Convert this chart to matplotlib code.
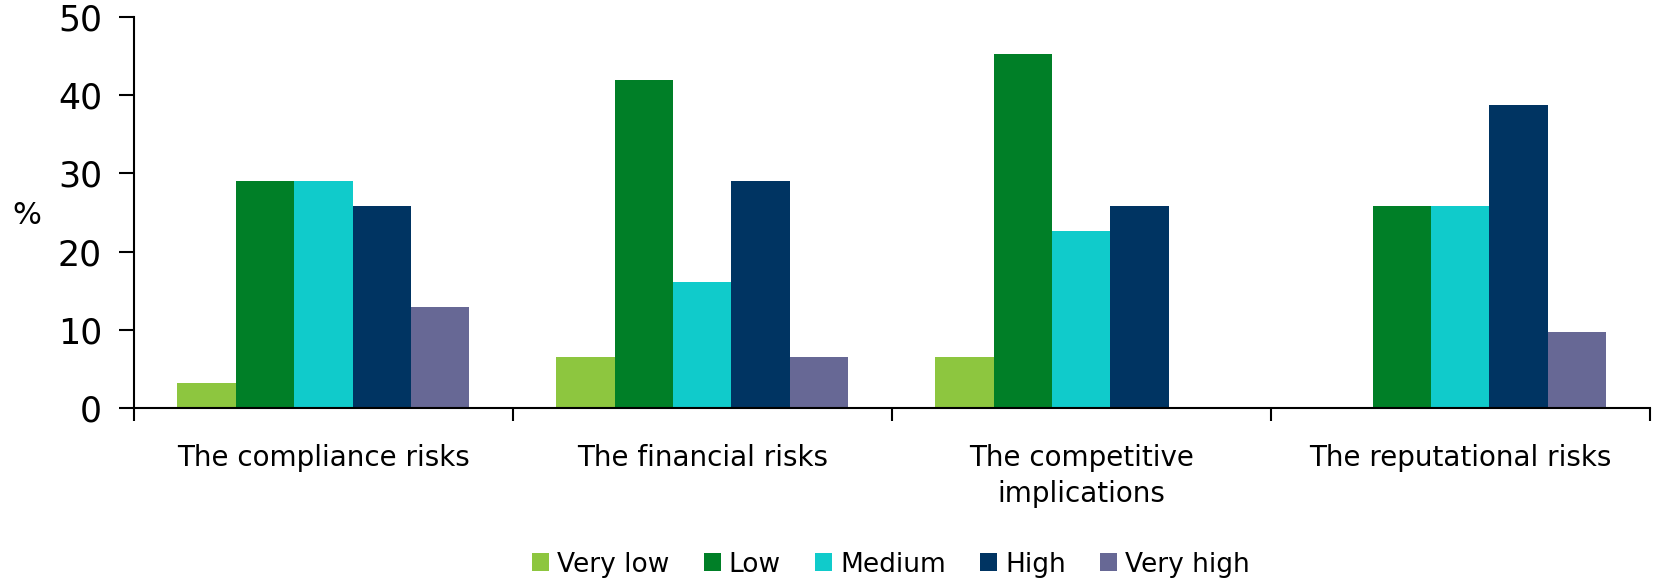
import matplotlib
matplotlib.use('Agg')
import matplotlib.pyplot as plt
import numpy as np

categories = ['The compliance risks', 'The financial risks',
              'The competitive\nimplications', 'The reputational risks']
levels = ['Very low', 'Low', 'Medium', 'High', 'Very high']
very_low = [3.2, 6.5, 6.5, 0.0]
low = [29.0, 41.9, 45.2, 25.8]
medium = [29.0, 16.1, 22.6, 25.8]
high = [25.8, 29.0, 25.8, 38.7]
very_high = [12.9, 6.5, 0.0, 9.7]
colors = ['#8DC63F', '#007F27', '#10CBCB', '#003462', '#676895']

series = [very_low, low, medium, high, very_high]

fig = plt.figure(figsize=(16.53, 5.79), dpi=100)
ax = fig.add_axes([0.081, 0.295, 0.917, 0.676])

x = np.arange(len(categories))
w = 0.154
for i, (vals, lab, col) in enumerate(zip(series, levels, colors)):
    ax.bar(x + (i - 2) * w, vals, width=w, color=col, label=lab)

ax.set_xlim(-0.5, len(categories) - 0.5)
ax.set_ylim(0, 50)
ax.set_yticks([0, 10, 20, 30, 40, 50])

# category labels at centres, tick marks at group borders
ax.set_xticks(x)
ax.set_xticklabels(categories, fontsize=20, linespacing=1.35)
ax.set_xticks(np.arange(-0.5, len(categories)), minor=True)
ax.tick_params(axis='x', which='major', length=0, pad=26)
ax.tick_params(axis='x', which='minor', length=9, width=1.5, direction='out')
ax.tick_params(axis='y', length=11, width=1.5, pad=12, labelsize=25)

for s in ['top', 'right']:
    ax.spines[s].set_visible(False)
for s in ['left', 'bottom']:
    ax.spines[s].set_linewidth(1.5)

fig.text(0.016, 0.627, '%', fontsize=22, ha='center', va='center')

fig.legend(loc='center', bbox_to_anchor=(0.539, 0.025), ncol=5, frameon=False,
           fontsize=19, handlelength=0.65, handleheight=0.65,
           handletextpad=0.3, columnspacing=1.3)

fig.savefig('out.png', dpi=100)
